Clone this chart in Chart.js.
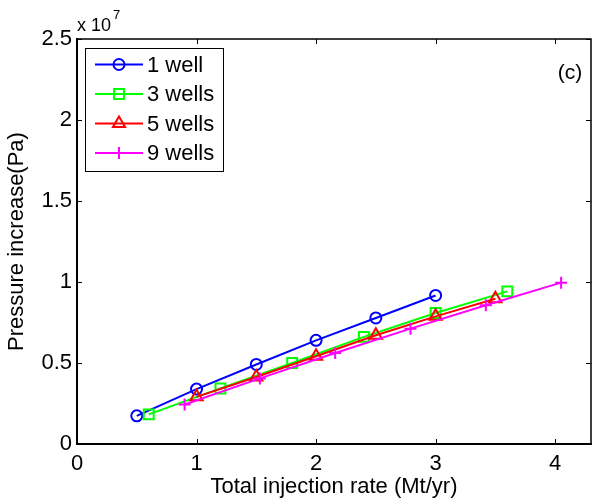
<!DOCTYPE html>
<html>
<head>
<meta charset="utf-8">
<script src="https://cdn.jsdelivr.net/npm/chart.js@4.4.1/dist/chart.umd.min.js"></script>
<style>
  html, body { margin: 0; padding: 0; background: #fff; overflow: hidden; }
  #wrap { width: 593px; height: 504px; overflow: hidden; position: relative; }
  #chart { display: block; }
</style>
</head>
<body>
<div id="wrap"><canvas id="chart" width="600" height="504"></canvas></div>
<script>
// ====== DATA (pressure in units of 1e7 Pa) ======
const rate1 = [0.5, 1.0, 1.5, 2.0, 2.5, 3.0];
const press1 = [0.174, 0.339, 0.491, 0.640, 0.778, 0.917];

const rate3 = [0.6, 1.2, 1.8, 2.4, 3.0, 3.6];
const press3 = [0.183, 0.343, 0.500, 0.661, 0.809, 0.942];

const rate5 = [1.0, 1.5, 2.0, 2.5, 3.0, 3.5];
const press5 = [0.291, 0.414, 0.542, 0.671, 0.788, 0.897];

const rate9 = [0.9, 1.53, 2.16, 2.79, 3.42, 4.05];
const press9 = [0.244, 0.405, 0.562, 0.712, 0.856, 0.996];

const seriesLabels = ["1 well", "3 wells", "5 wells", "9 wells"];
const xTicks = [0, 1, 2, 3, 4];
const yTicks = [0, 0.5, 1, 1.5, 2, 2.5];
// ================================================

const FONT = "Liberation Sans, Arial, Helvetica, sans-serif";
const FS = 22;

function pts(xs, ys) {
  return xs.map((x, i) => ({ x, y: ys[i] }));
}

function series(label, xs, ys, color, style, radius, order) {
  return {
    label,
    data: pts(xs, ys),
    showLine: true,
    borderColor: color,
    backgroundColor: "transparent",
    borderWidth: 2,
    pointStyle: style,
    pointRadius: radius,
    pointBorderColor: color,
    pointBackgroundColor: "transparent",
    pointBorderWidth: 2,
    pointHoverRadius: radius,
    tension: 0,
    order,
  };
}

const datasets = [
  series(seriesLabels[0], rate1, press1, "#0000ff", "circle", 5.5, 4),
  series(seriesLabels[1], rate3, press3, "#00ff00", "rect", 7, 3),
  series(seriesLabels[2], rate5, press5, "#ff0000", "triangle", 7, 2),
  series(seriesLabels[3], rate9, press9, "#ff00ff", "cross", 6, 1),
];

// inward ticks, top/right frame, legend, annotations
const decor = {
  id: "decor",
  afterDraw(chart) {
    const { ctx, chartArea: a, scales } = chart;
    const xs = scales.x, ys = scales.y;
    ctx.save();
    ctx.strokeStyle = "#000";
    ctx.lineWidth = 1.5;
    ctx.beginPath();
    ctx.moveTo(a.left, a.top);
    ctx.lineTo(a.right, a.top);
    ctx.lineTo(a.right, a.bottom);
    ctx.stroke();
    // ticks
    ctx.lineWidth = 1;
    const len = 5;
    ctx.beginPath();
    xTicks.forEach((v) => {
      const px = Math.round(xs.getPixelForValue(v)) + 0.5;
      ctx.moveTo(px, a.bottom); ctx.lineTo(px, a.bottom - len);
      ctx.moveTo(px, a.top); ctx.lineTo(px, a.top + len);
    });
    yTicks.forEach((v) => {
      const py = Math.round(ys.getPixelForValue(v)) + 0.5;
      ctx.moveTo(a.left, py); ctx.lineTo(a.left + len, py);
      ctx.moveTo(a.right, py); ctx.lineTo(a.right - len, py);
    });
    ctx.stroke();

    // exponent label
    ctx.fillStyle = "#000";
    ctx.textBaseline = "middle";
    ctx.textAlign = "left";
    ctx.font = "18px " + FONT;
    ctx.fillText("x 10", 77, 26);
    ctx.font = "13px " + FONT;
    ctx.fillText("7", 113, 15);

    // panel label
    ctx.font = "21px " + FONT;
    ctx.textAlign = "center";
    ctx.fillText("(c)", 570, 73);

    // legend
    const lx = 85, ly = 48, lw = 138, lh = 123;
    ctx.fillStyle = "#fff";
    ctx.fillRect(lx, ly, lw, lh);
    ctx.strokeStyle = "#000";
    ctx.lineWidth = 1;
    ctx.strokeRect(lx + 0.5, ly + 0.5, lw, lh);
    chart.data.datasets.forEach((ds, i) => {
      const y = 64.5 + i * 29.5;
      ctx.strokeStyle = ds.borderColor;
      ctx.lineWidth = 2;
      ctx.beginPath();
      ctx.moveTo(95, y);
      ctx.lineTo(143, y);
      ctx.stroke();
      ctx.fillStyle = "rgba(0,0,0,0)";
      Chart.helpers.drawPoint(ctx, {
        pointStyle: ds.pointStyle,
        radius: ds.pointRadius,
        borderWidth: 2,
        rotation: 0,
      }, 119, y);
      ctx.fillStyle = "#000";
      ctx.textAlign = "left";
      ctx.textBaseline = "middle";
      ctx.font = FS + "px " + FONT;
      ctx.fillText(ds.label, 147, y + 1);
    });
    ctx.restore();
  },
};

new Chart(document.getElementById("chart"), {
  type: "scatter",
  data: { datasets },
  options: {
    responsive: false,
    animation: false,
    layout: { padding: { left: 0, top: 39, right: 4, bottom: 0 } },
    plugins: {
      legend: { display: false },
      tooltip: { enabled: false },
    },
    scales: {
      x: {
        type: "linear",
        min: 0,
        max: 4.3,
        afterBuildTicks: (s) => { s.ticks = xTicks.map((v) => ({ value: v })); },
        afterFit: (s) => { s.height = 60; },
        grid: { display: false, drawTicks: false },
        border: { display: true, color: "#000", width: 2 },
        ticks: {
          color: "#000",
          font: { family: FONT, size: FS },
          padding: 7,
          callback: (v) => String(v),
        },
        title: {
          display: true,
          text: "Total injection rate (Mt/yr)",
          color: "#000",
          font: { family: FONT, size: FS },
          padding: { top: 0, bottom: 4 },
        },
      },
      y: {
        type: "linear",
        min: 0,
        max: 2.5,
        afterBuildTicks: (s) => { s.ticks = yTicks.map((v) => ({ value: v })); },
        afterFit: (s) => { s.width = 77; },
        grid: { display: false, drawTicks: false },
        border: { display: true, color: "#000", width: 2 },
        ticks: {
          color: "#000",
          font: { family: FONT, size: FS },
          padding: 5,
          callback: (v) => String(v),
        },
        title: {
          display: true,
          text: "Pressure increase(Pa)",
          color: "#000",
          font: { family: FONT, size: FS },
          padding: { top: 4, bottom: 0 },
        },
      },
    },
  },
  plugins: [decor],
});
</script>
</body>
</html>
